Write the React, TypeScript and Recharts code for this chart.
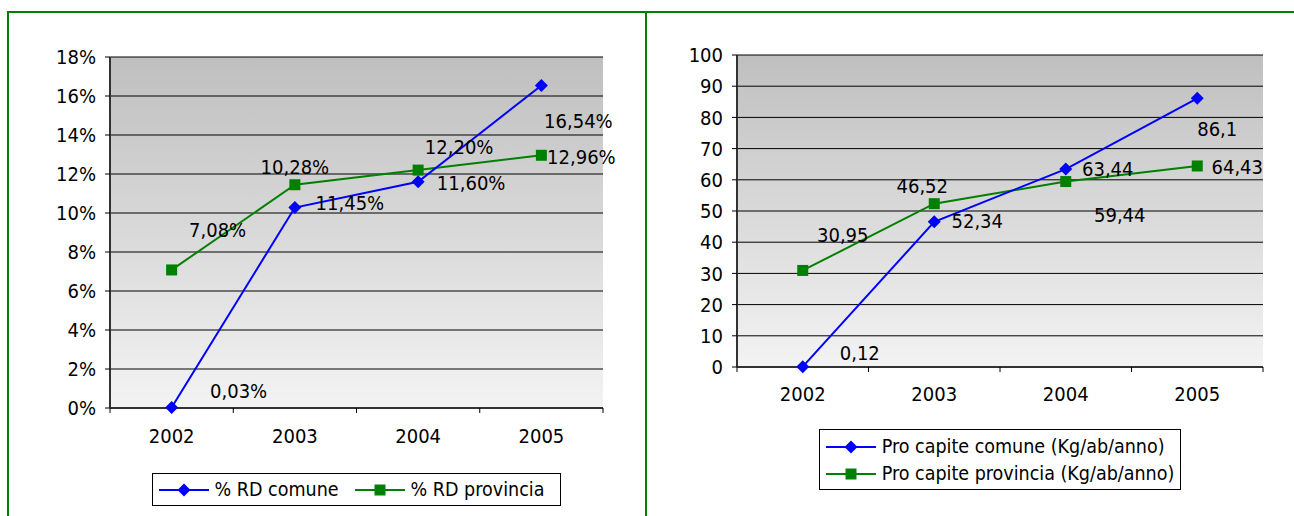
import React from "react";
import { LineChart, Line, XAxis, YAxis, CartesianGrid, Legend, LabelList } from "recharts";

const YEARS = ["2002", "2003", "2004", "2005"];

// % raccolta differenziata
const RD_COMUNE = [0.03, 10.28, 11.6, 16.54];
const RD_PROVINCIA = [7.08, 11.45, 12.2, 12.96];
const RD_TICKS = [0, 2, 4, 6, 8, 10, 12, 14, 16, 18];

// pro capite (Kg/ab/anno)
const PC_COMUNE = [0.12, 46.52, 63.44, 86.1];
const PC_PROVINCIA = [30.95, 52.34, 59.44, 64.43];
const PC_TICKS = [0, 10, 20, 30, 40, 50, 60, 70, 80, 90, 100];

const BLUE = "#0000ff";
const GREEN = "#008000";
const FONT = '"DejaVu Sans Condensed", "DejaVu Sans", sans-serif';
const FONT_SIZE = 20;
const LEGEND_FONT_SIZE = 19.5;
const X_TICK_SIZE = 5;

// where the data labels sit relative to their point (dx, dy) - excel moved them around
const RD_COMUNE_LABEL_POS = [[67, -16], [0, -41], [53, 1], [37, 36]];
const RD_PROV_LABEL_POS = [[46, -40], [55, 18], [41, -23], [40, 2]];
const PC_COMUNE_LABEL_POS = [[57, -14], [-12, -36], [42, 0], [20, 31]];
const PC_PROV_LABEL_POS = [[40, -35], [43, 17], [54, 33], [40, 1]];

const rdData = YEARS.map((year, i) => ({ year, comune: RD_COMUNE[i], provincia: RD_PROVINCIA[i] }));
const pcData = YEARS.map((year, i) => ({ year, comune: PC_COMUNE[i], provincia: PC_PROVINCIA[i] }));

const fmtPct = (v: number) => v.toFixed(2).replace(".", ",") + "%";
const fmtNum = (v: number) => String(v).replace(".", ",");

const Diamond = (props: any) => {
  const { cx, cy } = props;
  if (cx == null || cy == null) return null;
  const r = 6.5;
  return (
    <polygon
      key={`d-${props.index}`}
      points={`${cx},${cy - r} ${cx + r},${cy} ${cx},${cy + r} ${cx - r},${cy}`}
      fill={BLUE}
    />
  );
};

const Square = (props: any) => {
  const { cx, cy } = props;
  if (cx == null || cy == null) return null;
  return <rect key={`s-${props.index}`} x={cx - 5.5} y={cy - 5.5} width={11} height={11} fill={GREEN} />;
};

const makeLabel = (offsets: number[][], fmt: (v: number) => string) => (props: any) => {
  const { x, y, value, index } = props;
  const [dx, dy] = offsets[index] ?? [0, 0];
  return (
    <text
      x={x + dx}
      y={y + dy}
      textAnchor="middle"
      dominantBaseline="central"
      fontFamily={FONT}
      fontSize={FONT_SIZE}
      fill="#000"
    >
      {fmt(value)}
    </text>
  );
};

// category labels in the middle, tick marks on the band edges
const makeBandTick = (halfBand: number, tickMargin: number) => (props: any) => {
  const { x, y, payload, index, visibleTicksCount } = props;
  const half = payload.offset || halfBand;
  const axisY = y - X_TICK_SIZE - tickMargin;
  return (
    <g>
      <line x1={x - half} x2={x - half} y1={axisY} y2={axisY + X_TICK_SIZE} stroke="#000" />
      {index === visibleTicksCount - 1 && (
        <line x1={x + half} x2={x + half} y1={axisY} y2={axisY + X_TICK_SIZE} stroke="#000" />
      )}
      <text x={x} y={y} dy="0.71em" textAnchor="middle" fontFamily={FONT} fontSize={FONT_SIZE} fill="#000">
        {payload.value}
      </text>
    </g>
  );
};

const LegendIcon = ({ kind }: { kind: "diamond" | "square" }) => (
  <svg width={50} height={16} style={{ display: "block", flex: "none" }}>
    <line x1={0} x2={50} y1={8} y2={8} stroke={kind === "diamond" ? BLUE : GREEN} strokeWidth={2} />
    {kind === "diamond" ? (
      <polygon points="25,1.5 31.5,8 25,14.5 18.5,8" fill={BLUE} />
    ) : (
      <rect x={19.5} y={2.5} width={11} height={11} fill={GREEN} />
    )}
  </svg>
);

interface PanelProps {
  data: any[];
  ticks: number[];
  tickFmt: (v: number) => string;
  labelFmt: (v: number) => string;
  comuneName: string;
  provinciaName: string;
  comuneLabelPos: number[][];
  provLabelPos: number[][];
  width: number;
  height: number;
  margin: { top: number; right: number; bottom: number; left: number };
  yAxisWidth: number;
  xAxisHeight: number;
  xTickMargin: number;
  stacked: boolean;
  gradId: string;
}

function Panel(p: PanelProps) {
  const plotWidth = p.width - p.margin.left - p.margin.right - p.yAxisWidth;
  const halfBand = plotWidth / YEARS.length / 2;
  const items = [
    { kind: "diamond" as const, name: p.comuneName },
    { kind: "square" as const, name: p.provinciaName },
  ];

  const renderLegend = () => (
    <div style={{ textAlign: "center", lineHeight: 0 }}>
      <div
        style={{
          display: "inline-flex",
          flexDirection: p.stacked ? "column" : "row",
          alignItems: p.stacked ? "flex-start" : "center",
          boxSizing: "border-box",
          height: p.stacked ? 61 : 33,
          padding: p.stacked ? "3px 6px 3px 6px" : "0 16px 0 6px",
          border: "1px solid #000",
          background: "#fff",
          fontFamily: FONT,
          fontSize: LEGEND_FONT_SIZE,
          color: "#000",
          lineHeight: "27px",
        }}
      >
        {items.map((it, i) => (
          <div
            key={it.name}
            style={{
              display: "flex",
              alignItems: "center",
              height: 27,
              marginLeft: !p.stacked && i > 0 ? 16 : 0,
              whiteSpace: "nowrap",
            }}
          >
            <LegendIcon kind={it.kind} />
            <span style={{ marginLeft: 6 }}>{it.name}</span>
          </div>
        ))}
      </div>
    </div>
  );

  return (
    <LineChart width={p.width} height={p.height} data={p.data} margin={p.margin}>
      <defs>
        <linearGradient id={p.gradId} x1="0" y1="0" x2="0" y2="1">
          <stop offset="0%" stopColor="#bfbfbf" />
          <stop offset="100%" stopColor="#f3f3f3" />
        </linearGradient>
      </defs>
      <CartesianGrid vertical={false} stroke="#000" strokeWidth={1} fill={`url(#${p.gradId})`} fillOpacity={1} />
      <XAxis
        dataKey="year"
        scale="band"
        height={p.xAxisHeight}
        axisLine={{ stroke: "#333", strokeWidth: 2 }}
        tickLine={false}
        tickSize={X_TICK_SIZE}
        tickMargin={p.xTickMargin}
        tick={makeBandTick(halfBand, p.xTickMargin)}
        interval={0}
      />
      <XAxis xAxisId="top" dataKey="year" orientation="top" height={0} tick={false} tickLine={false} axisLine={{ stroke: "#8c8c8c", strokeWidth: 2 }} />
      <YAxis
        width={p.yAxisWidth}
        domain={[p.ticks[0], p.ticks[p.ticks.length - 1]]}
        ticks={p.ticks}
        interval={0}
        tickFormatter={p.tickFmt}
        axisLine={{ stroke: "#333", strokeWidth: 2 }}
        tickLine={{ stroke: "#000" }}
        tickSize={5}
        tickMargin={9}
        tick={{ fill: "#000", fontFamily: FONT, fontSize: FONT_SIZE }}
      />
      <YAxis yAxisId="right" orientation="right" width={0} type="number" domain={[0, 1]} tick={false} tickLine={false} axisLine={{ stroke: "#8c8c8c", strokeWidth: 2 }} />
      <Legend verticalAlign="bottom" content={renderLegend} wrapperStyle={{ left: p.margin.left + p.yAxisWidth, width: plotWidth }} />
      <Line
        dataKey="provincia"
        name={p.provinciaName}
        stroke={GREEN}
        strokeWidth={2}
        dot={Square}
        activeDot={false}
        isAnimationActive={false}
      >
        <LabelList dataKey="provincia" content={makeLabel(p.provLabelPos, p.labelFmt)} />
      </Line>
      <Line
        dataKey="comune"
        name={p.comuneName}
        stroke={BLUE}
        strokeWidth={2}
        dot={Diamond}
        activeDot={false}
        isAnimationActive={false}
      >
        <LabelList dataKey="comune" content={makeLabel(p.comuneLabelPos, p.labelFmt)} />
      </Line>
    </LineChart>
  );
}

export default function App() {
  return (
    <div style={{ position: "absolute", left: 0, top: 0, width: 1294, height: 516, background: "#fff", overflow: "hidden" }}>
      <div style={{ position: "absolute", left: 0, top: 0 }}>
        <Panel
          data={rdData}
          ticks={RD_TICKS}
          tickFmt={(v) => `${v}%`}
          labelFmt={fmtPct}
          comuneName="% RD comune"
          provinciaName="% RD provincia"
          comuneLabelPos={RD_COMUNE_LABEL_POS}
          provLabelPos={RD_PROV_LABEL_POS}
          width={645}
          height={516}
          margin={{ top: 57, right: 42, bottom: 10, left: 0 }}
          yAxisWidth={110}
          xAxisHeight={65}
          xTickMargin={16}
          stacked={false}
          gradId="gradRd"
        />
      </div>
      <div style={{ position: "absolute", left: 645, top: 0 }}>
        <Panel
          data={pcData}
          ticks={PC_TICKS}
          tickFmt={(v) => `${v}`}
          labelFmt={fmtNum}
          comuneName="Pro capite comune (Kg/ab/anno)"
          provinciaName="Pro capite provincia (Kg/ab/anno)"
          comuneLabelPos={PC_COMUNE_LABEL_POS}
          provLabelPos={PC_PROV_LABEL_POS}
          width={649}
          height={516}
          margin={{ top: 55, right: 31, bottom: 26, left: 0 }}
          yAxisWidth={92}
          xAxisHeight={62}
          xTickMargin={15}
          stacked={true}
          gradId="gradPc"
        />
      </div>
      {/* green table frame */}
      <div style={{ position: "absolute", left: 7, top: 11, width: 1287, height: 2, background: GREEN }} />
      <div style={{ position: "absolute", left: 7, top: 11, width: 2, height: 505, background: GREEN }} />
      <div style={{ position: "absolute", left: 645, top: 11, width: 2, height: 505, background: GREEN }} />
    </div>
  );
}
